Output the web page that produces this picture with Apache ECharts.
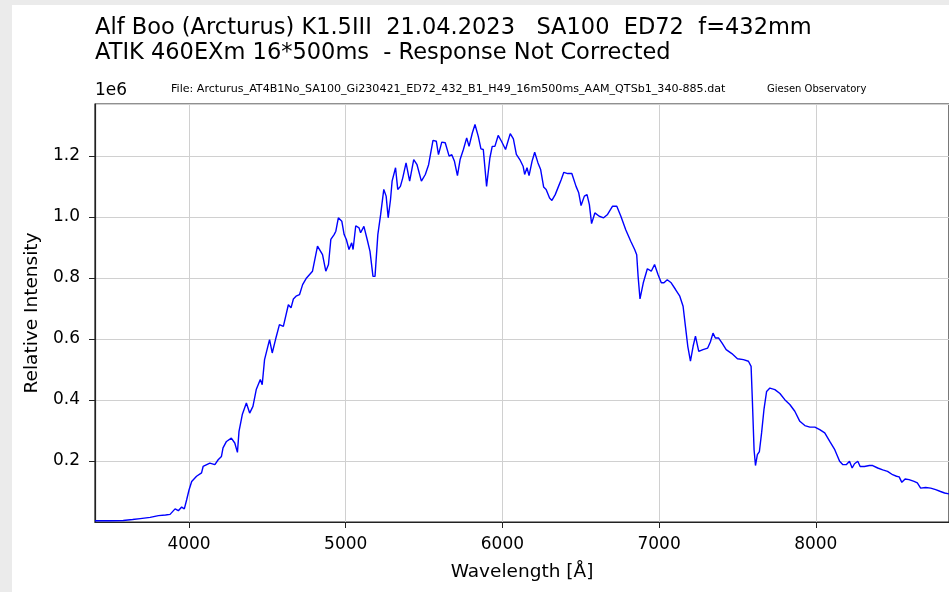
<!DOCTYPE html>
<html>
<head>
<meta charset="utf-8">
<script src="https://cdn.jsdelivr.net/npm/echarts@6/dist/echarts.min.js"></script>
<style>
  html, body { margin: 0; padding: 0; background: #fff; }
  #main { width: 949px; height: 592px; }
</style>
</head>
<body>
<div id="main"></div>
<script>
var chartDom = document.getElementById('main');
var myChart = echarts.init(chartDom);

// wavelength in Angstrom
var wavelength = [
  3400, 3500, 3580, 3640, 3689, 3752, 3805, 3850, 3879, 3911, 3932, 3953, 3970, 3985, 4000,
  4017, 4048, 4080, 4090, 4133, 4165, 4186, 4207, 4217, 4239, 4270, 4292, 4309, 4319, 4340,
  4366, 4387, 4408, 4429, 4455, 4467, 4482, 4514, 4531, 4552, 4577, 4602, 4634, 4651, 4666,
  4683, 4705, 4725, 4750, 4788, 4820, 4852, 4873, 4890, 4905, 4926, 4937, 4953, 4975, 4990,
  5004, 5021, 5038, 5047, 5064, 5085, 5095, 5116, 5137, 5155, 5174, 5187, 5205, 5223, 5243,
  5258, 5271, 5286, 5296, 5318, 5332, 5349, 5364, 5385, 5408, 5434, 5455, 5483, 5508, 5529,
  5557, 5578, 5592, 5613, 5635, 5660, 5677, 5694, 5713, 5730, 5751, 5772, 5787, 5808, 5825,
  5846, 5863, 5878, 5899, 5920, 5935, 5952, 5973, 5994, 6020, 6050, 6070, 6089, 6111, 6132,
  6142, 6157, 6170, 6189, 6206, 6227, 6244, 6263, 6279, 6301, 6316, 6337, 6358, 6375, 6392,
  6417, 6443, 6470, 6487, 6502, 6523, 6540, 6555, 6569, 6590, 6618, 6646, 6671, 6703, 6730,
  6756, 6787, 6819, 6844, 6857, 6866, 6878, 6899, 6925, 6950, 6971, 6993, 7014, 7031, 7052,
  7077, 7105, 7132, 7153, 7168, 7183, 7200, 7217, 7232, 7253, 7280, 7310, 7327, 7344, 7359,
  7380, 7401, 7428, 7464, 7500, 7538, 7570, 7587, 7595, 7606, 7615, 7627, 7640, 7654, 7669,
  7686, 7707, 7739, 7771, 7802, 7834, 7866, 7898, 7930, 7962, 7994, 8025, 8057, 8089, 8121,
  8152, 8173, 8194, 8215, 8232, 8247, 8268, 8283, 8310, 8342, 8363, 8395, 8427, 8458, 8490,
  8515, 8532, 8549, 8570, 8595, 8627, 8648, 8669, 8701, 8733, 8765, 8796, 8822, 8850
];

// relative intensity, units of 1e6
var intensity = [
  0.004, 0.004, 0.005, 0.008, 0.011, 0.015, 0.021, 0.023, 0.025, 0.043, 0.037, 0.049, 0.043, 0.073, 0.105,
  0.133, 0.150, 0.161, 0.182, 0.193, 0.188, 0.204, 0.215, 0.243, 0.264, 0.275, 0.259, 0.228, 0.297, 0.352,
  0.390, 0.357, 0.379, 0.434, 0.467, 0.450, 0.532, 0.598, 0.554, 0.598, 0.647, 0.641, 0.712, 0.702, 0.731,
  0.740, 0.745, 0.778, 0.800, 0.822, 0.904, 0.876, 0.822, 0.844, 0.926, 0.942, 0.953, 0.997, 0.986, 0.942,
  0.926, 0.893, 0.915, 0.893, 0.971, 0.964, 0.948, 0.969, 0.926, 0.887, 0.805, 0.805, 0.942, 1.008, 1.090,
  1.068, 0.997, 1.057, 1.117, 1.161, 1.090, 1.100, 1.128, 1.177, 1.117, 1.188, 1.171, 1.117, 1.139, 1.171,
  1.251, 1.248, 1.204, 1.245, 1.243, 1.199, 1.204, 1.182, 1.135, 1.188, 1.221, 1.259, 1.231, 1.275, 1.303,
  1.264, 1.223, 1.221, 1.100, 1.193, 1.231, 1.231, 1.267, 1.248, 1.221, 1.273, 1.256, 1.205, 1.188, 1.166,
  1.139, 1.161, 1.135, 1.182, 1.212, 1.177, 1.155, 1.098, 1.090, 1.062, 1.054, 1.073, 1.100, 1.122, 1.146,
  1.142, 1.142, 1.100, 1.079, 1.037, 1.068, 1.073, 1.040, 0.978, 1.013, 1.002, 0.997, 1.008, 1.035, 1.035,
  1.002, 0.958, 0.920, 0.893, 0.876, 0.805, 0.731, 0.784, 0.830, 0.822, 0.844, 0.811, 0.784, 0.784, 0.794,
  0.784, 0.762, 0.740, 0.707, 0.641, 0.576, 0.527, 0.576, 0.609, 0.559, 0.565, 0.570, 0.590, 0.619, 0.603,
  0.603, 0.587, 0.565, 0.552, 0.535, 0.532, 0.527, 0.510, 0.401, 0.237, 0.185, 0.221, 0.231, 0.292, 0.368,
  0.428, 0.439, 0.434, 0.421, 0.401, 0.385, 0.363, 0.330, 0.316, 0.311, 0.311, 0.303, 0.292, 0.264, 0.237,
  0.199, 0.188, 0.188, 0.199, 0.177, 0.191, 0.199, 0.182, 0.182, 0.185, 0.185, 0.177, 0.171, 0.166, 0.155,
  0.150, 0.148, 0.130, 0.141, 0.139, 0.133, 0.128, 0.111, 0.113, 0.111, 0.106, 0.100, 0.095, 0.092
];

var titleLines = [
  'Alf Boo (Arcturus) K1.5III  21.04.2023   SA100  ED72  f=432mm',
  'ATIK 460EXm 16*500ms  - Response Not Corrected'
];
var fileText = 'File: Arcturus_AT4B1No_SA100_Gi230421_ED72_432_B1_H49_16m500ms_AAM_QTSb1_340-885.dat';
var observatory = 'Giesen Observatory';

var points = wavelength.map(function (w, i) { return [w, intensity[i]]; });

var FONT = 'DejaVu Sans';

var option = {
  backgroundColor: '#fff',
  animation: false,
  title: {
    text: titleLines.join('\n'),
    left: 90,
    top: 11,
    textStyle: { fontFamily: FONT, fontSize: 22.5, fontWeight: 'normal', color: '#000', lineHeight: 25 }
  },
  graphic: [
    { type: 'rect', left: 0, top: 0, shape: { width: 12, height: 592 }, style: { fill: '#ebebeb' }, silent: true },
    { type: 'rect', left: 0, top: 0, shape: { width: 949, height: 5 }, style: { fill: '#ebebeb' }, silent: true },
    { type: 'text', left: 95, top: 82, style: { text: '1e6', font: '17px ' + FONT, fill: '#000' } },
    { type: 'text', left: 171, top: 84, style: { text: fileText, font: '11.1px ' + FONT, fill: '#000' } },
    { type: 'text', left: 767, top: 84, style: { text: observatory, font: '10px ' + FONT, fill: '#000' } }
  ],
  grid: {
    left: 95,
    top: 104,
    right: -5,
    bottom: 70,
    show: true,
    borderColor: '#222',
    borderWidth: 1.2,
    backgroundColor: 'transparent'
  },
  xAxis: {
    type: 'value',
    min: 3400,
    max: 8850,
    splitNumber: 5,
    name: 'Wavelength [Å]',
    nameLocation: 'middle',
    nameGap: 41,
    nameTextStyle: { fontFamily: FONT, fontSize: 18.5, color: '#000' },
    axisLine: { show: true, onZero: false, lineStyle: { color: '#222', width: 1.2 } },
    axisTick: { show: true, length: 6, lineStyle: { color: '#222' } },
    axisLabel: {
      fontFamily: FONT, fontSize: 17, color: '#000', margin: 14,
      showMinLabel: false, showMaxLabel: false,
      formatter: function (v) { return String(v); }
    },
    splitLine: { show: true, lineStyle: { color: '#d0d0d0', width: 1 } }
  },
  yAxis: {
    type: 'value',
    min: 0,
    max: 1.37,
    interval: 0.2,
    name: 'Relative Intensity',
    nameLocation: 'middle',
    nameGap: 52,
    nameRotate: 90,
    nameTextStyle: { fontFamily: FONT, fontSize: 18.5, color: '#000' },
    axisLine: { show: true, lineStyle: { color: '#222', width: 1.2 } },
    axisTick: { show: true, length: 6, lineStyle: { color: '#222' } },
    axisLabel: {
      fontFamily: FONT, fontSize: 17, color: '#000', margin: 15,
      showMinLabel: false, showMaxLabel: false,
      formatter: function (v) { return v.toFixed(1); }
    },
    splitLine: { show: true, lineStyle: { color: '#d0d0d0', width: 1 } }
  },
  series: [{
    type: 'line',
    data: points,
    showSymbol: false,
    symbol: 'none',
    lineStyle: { color: '#0000ff', width: 1.4 },
    clip: true
  }]
};

option && myChart.setOption(option);
</script>
</body>
</html>
